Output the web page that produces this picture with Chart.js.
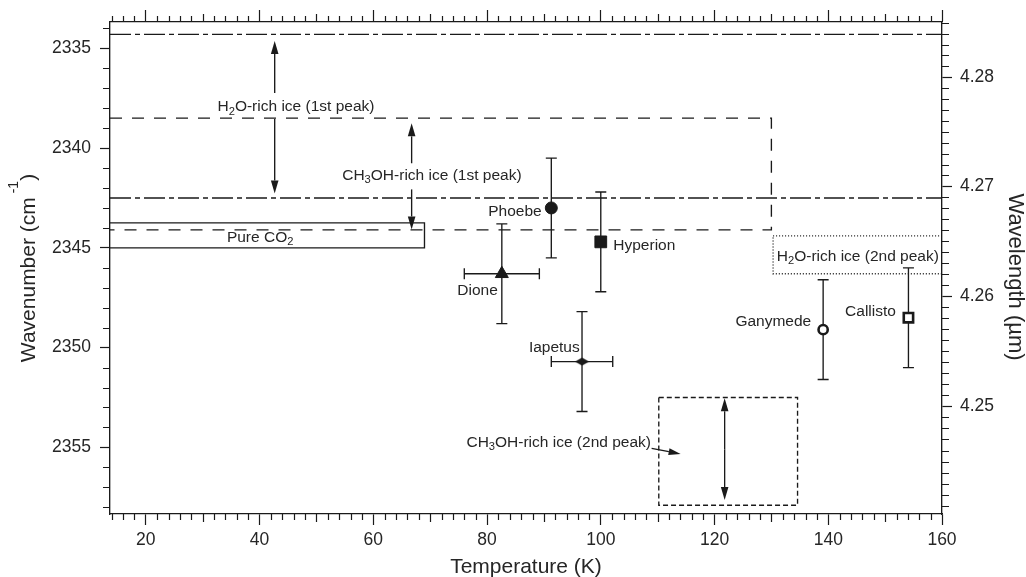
<!DOCTYPE html>
<html><head><meta charset="utf-8">
<script src="https://cdn.jsdelivr.net/npm/chart.js@4.4.1/dist/chart.umd.min.js"></script>
<style>html,body{margin:0;padding:0;background:#fff;}canvas{display:block;}</style>
</head><body>
<canvas id="c" width="1026" height="577"></canvas>
<script>
// ---------- data ----------
const moons          = ['Phoebe', 'Hyperion', 'Dione', 'Iapetus', 'Ganymede', 'Callisto'];
const temperatureK   = [91.3, 100.0, 82.6, 96.7, 139.1, 154.1];
const temperatureErr = [0, 0, 6.6, 5.4, 0, 0];
const wavenumber     = [2343.0, 2344.7, 2346.3, 2350.7, 2349.1, 2348.5];
const wavenumberErr  = [2.5, 2.5, 2.5, 2.5, 2.5, 2.5];

const xRange = [13.7, 160];
const yRange = [2333.68, 2358.34];
const xTicks = [20, 40, 60, 80, 100, 120, 140, 160];
const yTicks = [2335, 2340, 2345, 2350, 2355];
const lambdaTicks = [4.25, 4.26, 4.27, 4.28];

// reference ranges (wavenumber, cm-1) and temperature extents (K)
const h2o1stLines   = [2334.3, 2342.5];
const ch3oh1stRange = [2338.5, 2344.1];
const ch3oh1stTmax  = 130;
const pureCO2Range  = [2343.75, 2345.0];
const pureCO2Tmax   = 69;
const h2o2ndRange   = [2344.4, 2346.3];
const h2o2ndT       = [130.3, 160];
const ch3oh2ndRange = [2352.5, 2357.9];
const ch3oh2ndT     = [110.2, 134.6];

// ---------- styles ----------
const FONT = "'Liberation Sans', Arial, Helvetica, sans-serif";
const INK = '#1a1a1a';
const TXT = '#262626';
const LW = 1.35;

// diamond marker for Iapetus
const diamond = document.createElement('canvas');
diamond.width = 15; diamond.height = 9;
(() => { const g = diamond.getContext('2d'); g.fillStyle = INK; g.beginPath();
  g.moveTo(0.5, 4.5); g.lineTo(7.5, 0.5); g.lineTo(14.5, 4.5); g.lineTo(7.5, 8.5); g.closePath(); g.fill(); })();

const markerStyle = [
  {pointStyle: 'circle',   pointRadius: 6,   pointBackgroundColor: INK, pointBorderColor: INK, pointBorderWidth: 1},
  {pointStyle: 'rect',     pointRadius: 8.3, pointBackgroundColor: INK, pointBorderColor: INK, pointBorderWidth: 1},
  {pointStyle: 'triangle', pointRadius: 7.5, pointBackgroundColor: INK, pointBorderColor: INK, pointBorderWidth: 1},
  {pointStyle: diamond,    pointRadius: 6},
  {pointStyle: 'circle',   pointRadius: 4.6, pointBackgroundColor: '#fff', pointBorderColor: INK, pointBorderWidth: 2.6},
  {pointStyle: 'rect',     pointRadius: 6.6, pointBackgroundColor: '#fff', pointBorderColor: INK, pointBorderWidth: 2.6},
];

function refLine(label, pts, dash) {
  return {label, data: pts.map(p => ({x: p[0], y: p[1]})), showLine: true, pointRadius: 0,
          borderColor: INK, borderWidth: LW, borderDash: dash, fill: false, tension: 0};
}

const datasets = [
  refLine('H2O-rich ice (1st peak) upper', [[xRange[0], h2o1stLines[0]], [xRange[1], h2o1stLines[0]]], [21, 4, 5, 4]),
  refLine('H2O-rich ice (1st peak) lower', [[xRange[0], h2o1stLines[1]], [xRange[1], h2o1stLines[1]]], [21, 4, 5, 4]),
  refLine('CH3OH-rich ice (1st peak)', [[xRange[0], ch3oh1stRange[0]], [ch3oh1stTmax, ch3oh1stRange[0]],
                                        [ch3oh1stTmax, ch3oh1stRange[1]], [xRange[0], ch3oh1stRange[1]]], [12, 10]),
  refLine('Pure CO2', [[xRange[0], pureCO2Range[0]], [pureCO2Tmax, pureCO2Range[0]],
                       [pureCO2Tmax, pureCO2Range[1]], [xRange[0], pureCO2Range[1]]], []),
  refLine('H2O-rich ice (2nd peak)', [[h2o2ndT[0], h2o2ndRange[0]], [h2o2ndT[1], h2o2ndRange[0]], [h2o2ndT[1], h2o2ndRange[1]],
                                      [h2o2ndT[0], h2o2ndRange[1]], [h2o2ndT[0], h2o2ndRange[0]]], [1, 2]),
  refLine('CH3OH-rich ice (2nd peak)', [[ch3oh2ndT[0], ch3oh2ndRange[0]], [ch3oh2ndT[1], ch3oh2ndRange[0]], [ch3oh2ndT[1], ch3oh2ndRange[1]],
                                        [ch3oh2ndT[0], ch3oh2ndRange[1]], [ch3oh2ndT[0], ch3oh2ndRange[0]]], [5, 3]),
];
moons.forEach((m, i) => {
  datasets.push(Object.assign({label: m, data: [{x: temperatureK[i], y: wavenumber[i]}], showLine: false}, markerStyle[i]));
});

// text annotations (data coordinates)
const annotations = [
  {parts: [['Phoebe']], t: 89.6, w: 2343.13, align: 'right'},
  {parts: [['Hyperion']], t: 102.2, w: 2344.84, align: 'left'},
  {parts: [['Dione']], t: 81.9, w: 2347.11, align: 'right'},
  {parts: [['Iapetus']], t: 96.3, w: 2349.92, align: 'right'},
  {parts: [['Ganymede']], t: 137.0, w: 2348.65, align: 'right'},
  {parts: [['Callisto']], t: 151.9, w: 2348.15, align: 'right'},
  {parts: [['H'], ['2', 1], ['O-rich ice (1st peak)']], t: 46.4, w: 2337.89, align: 'center'},
  {parts: [['CH'], ['3', 1], ['OH-rich ice (1st peak)']], t: 70.3, w: 2341.33, align: 'center'},
  {parts: [['Pure CO'], ['2', 1]], t: 40.1, w: 2344.42, align: 'center'},
  {parts: [['H'], ['2', 1], ['O-rich ice (2nd peak)']], t: 145.2, w: 2345.36, align: 'center'},
  {parts: [['CH'], ['3', 1], ['OH-rich ice (2nd peak)']], t: 92.6, w: 2354.72, align: 'center'},
];
// arrows: [t1, w1, t2(tip), w2(tip), headLength, headHalfWidth]
const arrows = [
  [42.66, 2337.24, 42.66, 2334.63, 13, 3.8],
  [42.66, 2338.54, 42.66, 2342.27, 13, 3.8],
  [66.74, 2340.76, 66.74, 2338.76, 13, 3.8],
  [66.74, 2342.07, 66.74, 2344.08, 13, 3.8],
  [121.78, 2355.1, 121.78, 2352.54, 13, 3.8],
  [121.78, 2355.1, 121.78, 2357.64, 13, 3.8],
  [108.94, 2355.05, 114.04, 2355.33, 12, 3.5],
];

// ---------- helpers ----------
function drawRich(ctx, parts, x, y, align, size) {
  const sub = size * 0.72;
  const base = y + size * 0.355;
  let w = 0;
  parts.forEach(p => { ctx.font = (p[1] ? sub : size) + 'px ' + FONT; w += ctx.measureText(p[0]).width; });
  let cx = align === 'center' ? x - w / 2 : align === 'right' ? x - w : x;
  ctx.textAlign = 'left'; ctx.textBaseline = 'alphabetic';
  parts.forEach(p => {
    ctx.font = (p[1] ? sub : size) + 'px ' + FONT;
    ctx.fillText(p[0], cx, p[1] ? base + size * 0.2 : base);
    cx += ctx.measureText(p[0]).width;
  });
}
function drawArrow(ctx, x1, y1, x2, y2, head, half) {
  const a = Math.atan2(y2 - y1, x2 - x1);
  const bx = x2 - head * Math.cos(a), by = y2 - head * Math.sin(a);
  ctx.beginPath(); ctx.moveTo(x1, y1); ctx.lineTo(bx, by); ctx.stroke();
  ctx.beginPath(); ctx.moveTo(x2, y2);
  ctx.lineTo(bx + half * Math.sin(a), by - half * Math.cos(a));
  ctx.lineTo(bx - half * Math.sin(a), by + half * Math.cos(a));
  ctx.closePath(); ctx.fill();
}

// ---------- plugins ----------
const errorBars = {
  id: 'errorBars',
  beforeDatasetsDraw(chart) {
    const {ctx, scales: {x, y}} = chart;
    ctx.save(); ctx.strokeStyle = INK; ctx.lineWidth = LW; ctx.beginPath();
    temperatureK.forEach((t, i) => {
      const px = x.getPixelForValue(t), py = y.getPixelForValue(wavenumber[i]);
      const y1 = y.getPixelForValue(wavenumber[i] - wavenumberErr[i]);
      const y2 = y.getPixelForValue(wavenumber[i] + wavenumberErr[i]);
      ctx.moveTo(px, y1); ctx.lineTo(px, y2);
      ctx.moveTo(px - 5.5, y1); ctx.lineTo(px + 5.5, y1);
      ctx.moveTo(px - 5.5, y2); ctx.lineTo(px + 5.5, y2);
      if (temperatureErr[i] > 0) {
        const x1 = x.getPixelForValue(t - temperatureErr[i]), x2 = x.getPixelForValue(t + temperatureErr[i]);
        ctx.moveTo(x1, py); ctx.lineTo(x2, py);
        ctx.moveTo(x1, py - 5.5); ctx.lineTo(x1, py + 5.5);
        ctx.moveTo(x2, py - 5.5); ctx.lineTo(x2, py + 5.5);
      }
    });
    ctx.stroke(); ctx.restore();
  }
};

const annotate = {
  id: 'annotate',
  afterDatasetsDraw(chart) {
    const {ctx, scales: {x, y}} = chart;
    ctx.save();
    ctx.strokeStyle = INK; ctx.fillStyle = INK; ctx.lineWidth = LW;
    arrows.forEach(a => drawArrow(ctx, x.getPixelForValue(a[0]), y.getPixelForValue(a[1]),
                                       x.getPixelForValue(a[2]), y.getPixelForValue(a[3]), a[4], a[5]));
    ctx.fillStyle = TXT;
    annotations.forEach(an => drawRich(ctx, an.parts, x.getPixelForValue(an.t), y.getPixelForValue(an.w), an.align, 15.5));
    ctx.restore();
  }
};

const axisExtras = {
  id: 'axisExtras',
  afterDraw(chart) {
    const {ctx, chartArea: ca, scales: {x, x2, y, y2}} = chart;
    ctx.save(); ctx.strokeStyle = INK; ctx.lineWidth = 1.2; ctx.beginPath();
    for (let t = 14; t <= 160; t += 2) {
      if (t % 20 === 0) continue;
      const len = t % 10 === 0 ? 8 : 6;
      const p = Math.round(x.getPixelForValue(t)) + 0.5;
      ctx.moveTo(p, x.top); ctx.lineTo(p, x.top + len);
      ctx.moveTo(p, x2.bottom); ctx.lineTo(p, x2.bottom - len);
    }
    for (let w = 2334; w <= 2358; w++) {
      if (w % 5 === 0) continue;
      const p = Math.round(y.getPixelForValue(w)) + 0.5;
      ctx.moveTo(y.right, p); ctx.lineTo(y.right - 7, p);
    }
    for (let k = 4241; k <= 4285; k++) {
      if (k % 10 === 0) continue;
      const p = Math.round(y2.getPixelForValue(1e4 / (k / 1000))) + 0.5;
      ctx.moveTo(y2.left, p); ctx.lineTo(y2.left + 7, p);
    }
    ctx.stroke();

    // axis titles
    ctx.fillStyle = TXT;
    const size = 21;
    const cy = (ca.top + ca.bottom) / 2;
    // left
    ctx.save(); ctx.translate(35, cy); ctx.rotate(-Math.PI / 2);
    ctx.font = size + 'px ' + FONT; ctx.textBaseline = 'alphabetic'; ctx.textAlign = 'left';
    const a = 'Wavenumber (cm', b = ' -1', c = ')';
    const wa = ctx.measureText(a).width; ctx.font = '14px ' + FONT; const wb = ctx.measureText(b).width;
    ctx.font = size + 'px ' + FONT; const wc = ctx.measureText(c).width;
    let sx = -(wa + wb + wc) / 2;
    ctx.fillText(a, sx, 0); sx += wa;
    ctx.font = '14px ' + FONT; ctx.fillText(b, sx, -17); sx += wb;
    ctx.font = size + 'px ' + FONT; ctx.fillText(c, sx, 0);
    ctx.restore();
    // right
    ctx.save(); ctx.translate(1009, cy + 9); ctx.rotate(Math.PI / 2);
    ctx.font = '22px ' + FONT; ctx.textAlign = 'center'; ctx.textBaseline = 'alphabetic';
    ctx.fillText('Wavelength (\u00B5m)', 0, 0);
    ctx.restore();
    // bottom
    ctx.font = size + 'px ' + FONT; ctx.textAlign = 'center'; ctx.textBaseline = 'alphabetic';
    ctx.fillText('Temperature (K)', (ca.left + ca.right) / 2, 573);
    ctx.restore();
  }
};

// ---------- chart ----------
const tickFont = {family: FONT, size: 17.5};
const gridOpts = (len) => ({display: true, drawOnChartArea: false, drawTicks: true, tickLength: len, tickColor: INK, tickWidth: 1.2});
const borderOpts = {display: true, color: INK, width: LW};

new Chart(document.getElementById('c'), {
  type: 'scatter',
  data: {datasets},
  options: {
    responsive: false, animation: false, devicePixelRatio: 1,
    layout: {padding: 0},
    plugins: {legend: {display: false}, tooltip: {enabled: false}},
    scales: {
      x: {type: 'linear', position: 'bottom', min: xRange[0], max: xRange[1],
          afterBuildTicks: s => { s.ticks = xTicks.map(v => ({value: v})); },
          afterFit: s => { s.height = 63; },
          ticks: {font: tickFont, color: TXT, padding: 5, autoSkip: false, maxRotation: 0, callback: v => String(v)},
          grid: gridOpts(11), border: borderOpts},
      x2: {type: 'linear', position: 'top', min: xRange[0], max: xRange[1],
          afterBuildTicks: s => { s.ticks = xTicks.map(v => ({value: v})); },
          afterFit: s => { s.height = 22; },
          ticks: {font: tickFont, autoSkip: false, maxRotation: 0, callback: () => ''},
          grid: gridOpts(12), border: borderOpts},
      y: {type: 'linear', position: 'left', reverse: true, min: yRange[0], max: yRange[1],
          afterBuildTicks: s => { s.ticks = yTicks.map(v => ({value: v})); },
          afterFit: s => { s.width = 110; },
          ticks: {font: tickFont, color: TXT, padding: 9, autoSkip: false, callback: v => String(v)},
          grid: gridOpts(10), border: borderOpts},
      y2: {type: 'linear', position: 'right', reverse: true, min: yRange[0], max: yRange[1],
          afterBuildTicks: s => { s.ticks = lambdaTicks.map(l => ({value: 1e4 / l})); },
          afterFit: s => { s.width = 84; },
          ticks: {font: tickFont, color: TXT, padding: 8, autoSkip: false, callback: v => (1e4 / v).toFixed(2)},
          grid: gridOpts(10), border: borderOpts},
    }
  },
  plugins: [errorBars, annotate, axisExtras]
});
</script>
</body></html>
